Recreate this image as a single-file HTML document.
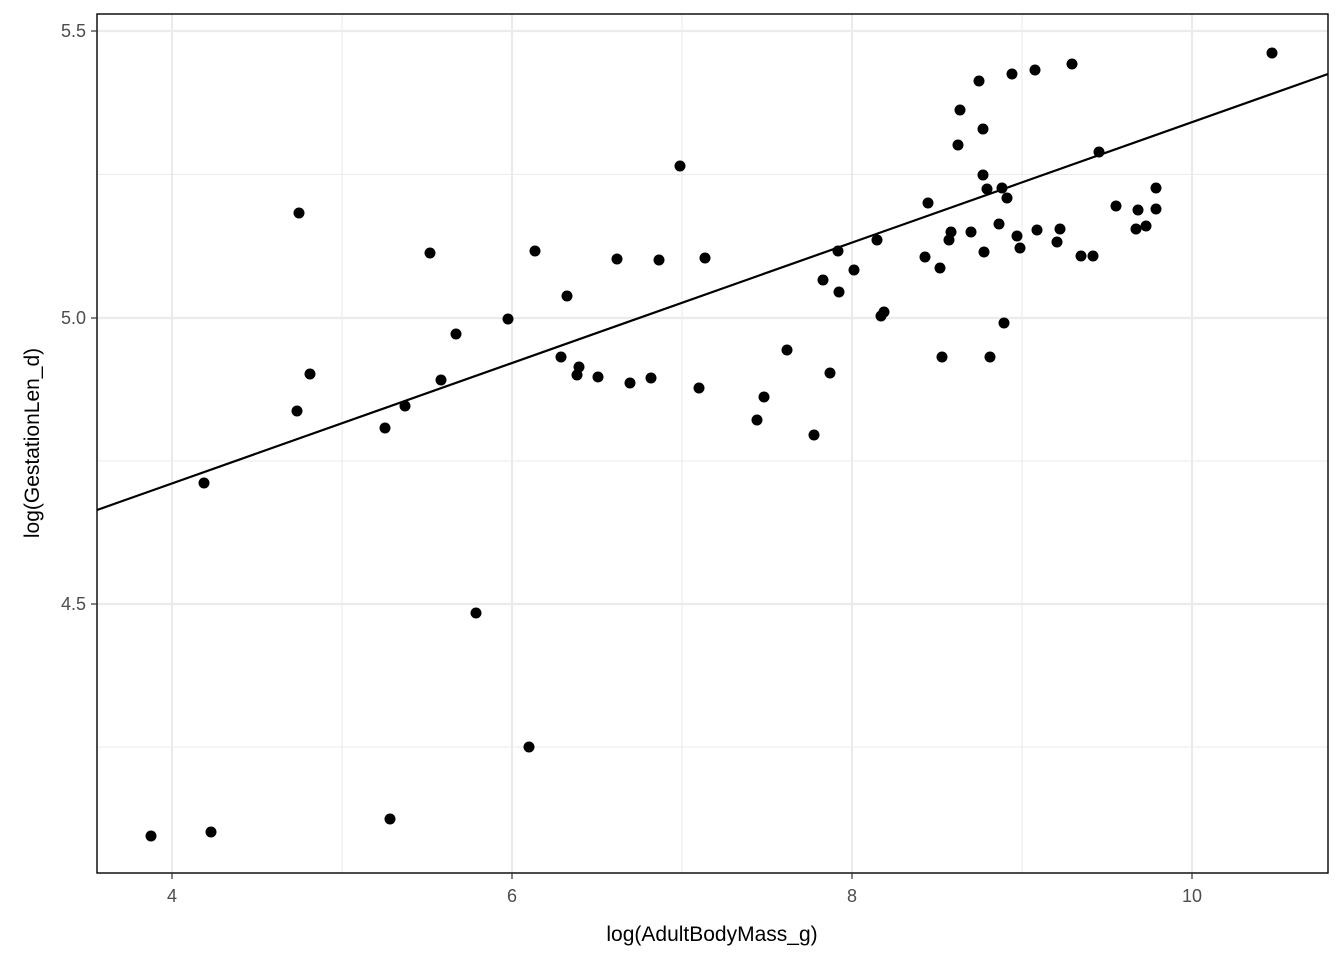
<!DOCTYPE html>
<html><head><meta charset="utf-8"><style>body{margin:0;background:#fff}svg{display:block}</style></head><body>
<svg width="1344" height="960" xmlns="http://www.w3.org/2000/svg" font-family="Liberation Sans, sans-serif">
<rect width="1344" height="960" fill="#fff"/>
<g stroke="#ebebeb" stroke-width="1.1">
<line x1="342" y1="14" x2="342" y2="873"/><line x1="682" y1="14" x2="682" y2="873"/><line x1="1022" y1="14" x2="1022" y2="873"/>
<line x1="97" y1="174.5" x2="1328" y2="174.5"/><line x1="97" y1="461" x2="1328" y2="461"/><line x1="97" y1="747" x2="1328" y2="747"/>
</g>
<g stroke="#ebebeb" stroke-width="2.2">
<line x1="172" y1="14" x2="172" y2="873"/><line x1="512" y1="14" x2="512" y2="873"/><line x1="852" y1="14" x2="852" y2="873"/><line x1="1192" y1="14" x2="1192" y2="873"/>
<line x1="97" y1="31" x2="1328" y2="31"/><line x1="97" y1="318" x2="1328" y2="318"/><line x1="97" y1="604" x2="1328" y2="604"/>
</g>
<g fill="#000">
<circle cx="151" cy="836" r="5.5"/><circle cx="211" cy="832" r="5.5"/><circle cx="390" cy="819" r="5.5"/><circle cx="529" cy="747" r="5.5"/><circle cx="476" cy="613" r="5.5"/><circle cx="204" cy="483" r="5.5"/><circle cx="297" cy="411" r="5.5"/><circle cx="310" cy="374" r="5.5"/><circle cx="299" cy="213" r="5.5"/><circle cx="385" cy="428" r="5.5"/><circle cx="405" cy="406" r="5.5"/><circle cx="441" cy="380" r="5.5"/><circle cx="456" cy="334" r="5.5"/><circle cx="430" cy="253" r="5.5"/><circle cx="508" cy="319" r="5.5"/><circle cx="535" cy="251" r="5.5"/><circle cx="567" cy="296" r="5.5"/><circle cx="561" cy="357" r="5.5"/><circle cx="579" cy="367" r="5.5"/><circle cx="577" cy="375" r="5.5"/><circle cx="598" cy="377" r="5.5"/><circle cx="630" cy="383" r="5.5"/><circle cx="651" cy="378" r="5.5"/><circle cx="617" cy="259" r="5.5"/><circle cx="659" cy="260" r="5.5"/><circle cx="680" cy="166" r="5.5"/><circle cx="705" cy="258" r="5.5"/><circle cx="699" cy="388" r="5.5"/><circle cx="757" cy="420" r="5.5"/><circle cx="764" cy="397" r="5.5"/><circle cx="787" cy="350" r="5.5"/><circle cx="814" cy="435" r="5.5"/><circle cx="830" cy="373" r="5.5"/><circle cx="823" cy="280" r="5.5"/><circle cx="838" cy="251" r="5.5"/><circle cx="839" cy="292" r="5.5"/><circle cx="854" cy="270" r="5.5"/><circle cx="877" cy="240" r="5.5"/><circle cx="881" cy="316" r="5.5"/><circle cx="884" cy="312" r="5.5"/><circle cx="925" cy="257" r="5.5"/><circle cx="928" cy="203" r="5.5"/><circle cx="940" cy="268" r="5.5"/><circle cx="942" cy="357" r="5.5"/><circle cx="949" cy="240" r="5.5"/><circle cx="951" cy="232" r="5.5"/><circle cx="958" cy="145" r="5.5"/><circle cx="960" cy="110" r="5.5"/><circle cx="971" cy="232" r="5.5"/><circle cx="979" cy="81" r="5.5"/><circle cx="983" cy="129" r="5.5"/><circle cx="983" cy="175" r="5.5"/><circle cx="987" cy="189" r="5.5"/><circle cx="984" cy="252" r="5.5"/><circle cx="990" cy="357" r="5.5"/><circle cx="999" cy="224" r="5.5"/><circle cx="1002" cy="188" r="5.5"/><circle cx="1004" cy="323" r="5.5"/><circle cx="1007" cy="198" r="5.5"/><circle cx="1012" cy="74" r="5.5"/><circle cx="1017" cy="236" r="5.5"/><circle cx="1020" cy="248" r="5.5"/><circle cx="1035" cy="70" r="5.5"/><circle cx="1037" cy="230" r="5.5"/><circle cx="1057" cy="242" r="5.5"/><circle cx="1060" cy="229" r="5.5"/><circle cx="1072" cy="64" r="5.5"/><circle cx="1081" cy="256" r="5.5"/><circle cx="1093" cy="256" r="5.5"/><circle cx="1099" cy="152" r="5.5"/><circle cx="1116" cy="206" r="5.5"/><circle cx="1136" cy="229" r="5.5"/><circle cx="1138" cy="210" r="5.5"/><circle cx="1146" cy="226" r="5.5"/><circle cx="1156" cy="188" r="5.5"/><circle cx="1156" cy="209" r="5.5"/><circle cx="1272" cy="53" r="5.5"/>
</g>
<line x1="97" y1="510" x2="1328" y2="74" stroke="#000" stroke-width="2.2"/>
<rect x="97" y="14" width="1231" height="859" fill="none" stroke="#000" stroke-width="1.4"/>
<g stroke="#333" stroke-width="1.2">
<line x1="172" y1="873" x2="172" y2="879"/><line x1="512" y1="873" x2="512" y2="879"/><line x1="852" y1="873" x2="852" y2="879"/><line x1="1192" y1="873" x2="1192" y2="879"/>
<line x1="91" y1="31" x2="97" y2="31"/><line x1="91" y1="318" x2="97" y2="318"/><line x1="91" y1="604" x2="97" y2="604"/>
</g>
<g fill="#4d4d4d" font-size="18">
<text x="172" y="902" text-anchor="middle">4</text><text x="512" y="902" text-anchor="middle">6</text><text x="852" y="902" text-anchor="middle">8</text><text x="1192" y="902" text-anchor="middle">10</text>
<text x="86" y="37" text-anchor="end">5.5</text><text x="86" y="324" text-anchor="end">5.0</text><text x="86" y="610" text-anchor="end">4.5</text>
</g>
<text x="712" y="941" text-anchor="middle" font-size="21" fill="#000">log(AdultBodyMass_g)</text>
<text transform="translate(39,443) rotate(-90)" text-anchor="middle" font-size="21" fill="#000">log(GestationLen_d)</text>
</svg>
</body></html>
